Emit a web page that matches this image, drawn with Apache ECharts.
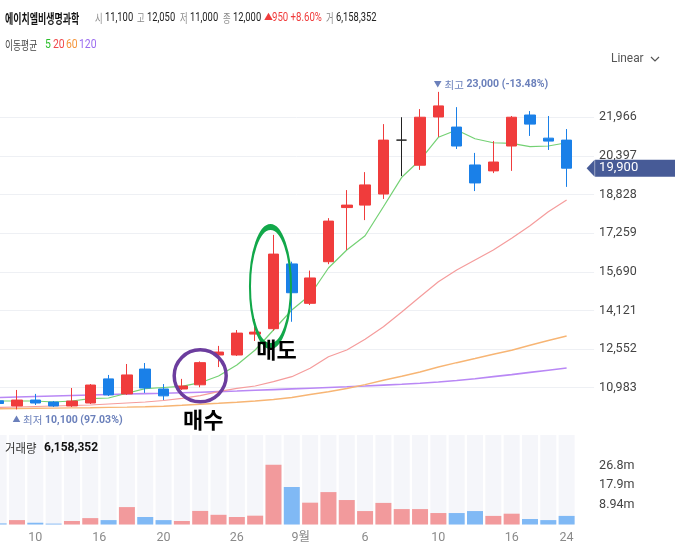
<!DOCTYPE html>
<html><head><meta charset="utf-8">
<script src="https://cdn.jsdelivr.net/npm/echarts@6/dist/echarts.min.js"></script>
<style>html,body{margin:0;padding:0;background:#fff}#c{width:675px;height:555px}</style>
</head><body><div id="c"></div>
<script>
// ---------------- data ----------------
const tickLabels = ['', '', '10', '', '', '16', '', '', '', '20', '', '', '', '26', '', '', '9월', '', '', '', '6', '', '', '', '10', '', '', '', '16', '', '', '24', ''];
const shiftedTicks = [5, 16]; // labels that sit between two sessions
const opens  = [10450,10240,10480,10400,10240,10360,11340,10730,11740,10930,10930,11100,12310,12310,13160,13380,16010,14410,16100,18300,18400,18850,21040,20020,21980,21570,20030,19790,20800,22060,21120,21040];
const closes = [10340,10480,10360,10240,10440,11090,10690,11500,10970,10650,11050,12000,12430,13200,13240,16410,14840,15440,17750,18400,19220,21040,21040,21970,22430,20800,19300,20150,21970,21690,21000,19900];
const lows   = [10300,10100,10280,10200,10200,10320,10645,10690,10770,10480,10890,11000,11820,12270,12880,13300,13660,14340,16000,16580,17790,18650,19580,19830,21170,20680,18970,19700,19790,21210,20640,19140];
const highs  = [10500,10890,10730,10440,10970,11130,11500,11945,11985,11130,11340,12050,12680,13325,13770,17190,16100,15740,17870,19010,19740,21690,21970,22300,23000,22380,20520,21000,22020,22220,22020,21490];
const volumesM = [0.5,2.0,0.8,0.4,1.6,2.9,2.0,7.9,3.4,2.0,1.6,6.158352,4.4,3.4,4.0,27.1,17.0,9.9,14.7,11.1,6.1,9.8,7.0,7.0,5.2,5.2,6.1,3.9,4.9,2.5,2.0,3.9];
const ma5   = [10442,10442,10442,10401,10442,10535,10564,10755,10942,10990,11039,11185,11458,11904,12513,13325,14138,14748,15845,16575,17157,18334,19529,20232,21154,21450,21097,20934,20910,20772,20800,20934];
const ma20  = [10178,10198,10219,10239,10259,10280,10320,10361,10401,10462,10552,10657,10820,10958,11051,11226,11429,11770,12241,12514,12948,13460,14057,14679,15288,15763,16169,16575,17050,17562,18131,18607];
const ma60  = [10129,10137,10145,10153,10162,10170,10182,10194,10210,10231,10267,10308,10348,10393,10442,10503,10584,10706,10816,10950,11108,11283,11446,11620,11823,11998,12168,12343,12505,12705,12900,13082];
const ma120 = [10584,10604,10625,10645,10665,10686,10706,10726,10743,10759,10779,10800,10824,10848,10877,10905,10934,10962,10990,11019,11051,11088,11125,11165,11214,11275,11344,11433,11514,11604,11693,11782];
const headerIndex = 11;     // session shown in the header (매수)
const buyIndex = 11, sellIndex = 15;
const priceTick = 1569;
const volTick = 8.936e6;

// ---------------- helpers ----------------
const NUM = "Roboto,'Noto Sans CJK KR',sans-serif";
const KR = "'Noto Sans CJK KR',sans-serif";
const fmt = v => String(Math.round(v)).replace(/\B(?=(\d{3})+(?!\d))/g, ',');
const UP = '#f03c3c', DOWN = '#1a80e8';
const cats = tickLabels.map((_, i) => 'c' + i);
const candleData = opens.map((o, i) => [o, closes[i], lows[i], highs[i]]);
const volumes = volumesM.map(v => v * 1e6);
const volData = volumes.map((v, i) => ({value: v, itemStyle: {color: closes[i] >= opens[i] ? '#f29a9c' : '#80b9f5'}}));
const volMax = 40.6e6;
const volBg = volumes.map(() => volMax);

const hiIdx = highs.indexOf(Math.max(...highs));
const loIdx = lows.indexOf(Math.min(...lows));
const last = closes[closes.length - 1];
const hiPct = ((last / highs[hiIdx] - 1) * 100).toFixed(2);
const loPct = ((last / lows[loIdx] - 1) * 100).toFixed(2);
const chg = closes[headerIndex] - closes[headerIndex - 1];
const chgPct = (chg / closes[headerIndex - 1] * 100).toFixed(2);

const chart = echarts.init(document.getElementById('c'), null, {renderer: 'canvas'});

function txt(x, y, text, color, size, family, weight, sx) {
  return {type: 'text', x: x, y: y, scaleX: sx || 1, z: 100,
    style: {text: text, fill: color, fontSize: size, fontFamily: family, fontWeight: weight || 'normal', verticalAlign: 'middle', align: 'left'}};
}
const h1 = 18, h2 = 45;
const graphics = [
  txt(5, h1, '에이치엘비생명과학', '#111', 13, KR, 'bold', 0.69),
  txt(95, h1, '시', '#888', 12.5, KR, 'normal', 0.66), txt(105, h1, fmt(opens[headerIndex]), '#222', 13, NUM, 'normal', 0.72),
  txt(137, h1, '고', '#888', 12.5, KR, 'normal', 0.66), txt(147, h1, fmt(highs[headerIndex]), '#222', 13, NUM, 'normal', 0.72),
  txt(180, h1, '저', '#888', 12.5, KR, 'normal', 0.66), txt(190, h1, fmt(lows[headerIndex]), '#222', 13, NUM, 'normal', 0.72),
  txt(223, h1, '종', '#888', 12.5, KR, 'normal', 0.66), txt(233, h1, fmt(closes[headerIndex]), '#222', 13, NUM, 'normal', 0.72),
  txt(264, h1, '▲', '#f03c3c', 9, NUM, 'normal', 1),
  txt(272, h1, fmt(chg) + ' +' + chgPct + '%', '#f03c3c', 13, NUM, 'normal', 0.74),
  txt(326, h1, '거', '#888', 12.5, KR, 'normal', 0.66), txt(336, h1, fmt(volumes[headerIndex]), '#222', 13, NUM, 'normal', 0.72),
  txt(5, h2, '이동평균', '#444', 12.5, KR, 'normal', 0.7),
  txt(45, h2, '5', '#2dbf2d', 13, NUM, 'normal', 0.8), txt(53, h2, '20', '#f0474a', 13, NUM, 'normal', 0.8),
  txt(66, h2, '60', '#f5953a', 13, NUM, 'normal', 0.8), txt(79, h2, '120', '#9b6cf0', 13, NUM, 'normal', 0.8),
  txt(611, 59, 'Linear', '#555', 12.5, NUM, 'normal', 0.95),
  {type: 'polyline', z: 100, shape: {points: [[651, 57], [655, 61], [659, 57]]}, style: {stroke: '#555', lineWidth: 1.2, fill: null}},
  txt(5, 448, '거래량', '#333', 12, KR, 'normal', 0.95),
  txt(44, 448, fmt(volumes[headerIndex]), '#111', 12, NUM, 'bold', 1)
];

const option = {
  animation: false,
  backgroundColor: '#fff',
  grid: [
    {left: -10.5, right: 80.9, top: 78.7, height: 347.6, outerBoundsMode: 'none', containLabel: false},
    {left: -10.5, right: 80.9, top: 435, height: 89.5, outerBoundsMode: 'none', containLabel: false}
  ],
  xAxis: [
    {type: 'category', gridIndex: 0, data: cats, boundaryGap: true, axisLine: {show: false}, axisTick: {show: false}, axisLabel: {show: false}, splitLine: {show: false}},
    {type: 'category', gridIndex: 1, data: cats, boundaryGap: true, axisLine: {show: false}, axisTick: {show: false}, splitLine: {show: false},
     axisLabel: {show: true, interval: 0, margin: 7, color: '#8a8a8a', fontSize: 12.5, fontFamily: NUM,
       formatter: (v, i) => shiftedTicks.includes(i) ? '{s|' + tickLabels[i] + '}' : tickLabels[i],
       rich: {s: {padding: [0, 0, 0, 18], color: '#8a8a8a', fontSize: 12.5, fontFamily: NUM}}}}
  ],
  yAxis: [
    {type: 'value', gridIndex: 0, position: 'right', min: priceTick * 6, max: priceTick * 15, interval: priceTick,
     axisLine: {show: false}, axisTick: {show: false},
     splitLine: {show: true, showMinLine: false, showMaxLine: false, lineStyle: {color: '#eef0f4', width: 1}},
     axisLabel: {showMinLabel: false, showMaxLabel: false, margin: 5, color: '#444', fontSize: 12.5, fontFamily: NUM, formatter: v => fmt(v)}},
    {type: 'value', gridIndex: 1, position: 'right', min: 0, max: volMax, interval: volTick,
     axisLine: {show: false}, axisTick: {show: false}, splitLine: {show: false},
     axisLabel: {margin: 5, color: '#444', fontSize: 12.5, fontFamily: NUM,
       formatter: v => (v > 0 && v < 30e6) ? (v / 1e6).toPrecision(3) + 'm' : ''}}
  ],
  series: [
    {type: 'bar', xAxisIndex: 1, yAxisIndex: 1, data: volBg, barWidth: 16, silent: true, itemStyle: {color: '#f5f6fa'}, z: 1},
    {type: 'bar', xAxisIndex: 1, yAxisIndex: 1, data: volData, barWidth: 16, barGap: '-100%', z: 2},
    {type: 'line', xAxisIndex: 0, yAxisIndex: 0, data: ma120, symbol: 'none', lineStyle: {color: '#b988f5', width: 1.6}, z: 2, silent: true},
    {type: 'line', xAxisIndex: 0, yAxisIndex: 0, data: ma60, symbol: 'none', lineStyle: {color: '#f7b574', width: 1.4}, z: 2, silent: true},
    {type: 'line', xAxisIndex: 0, yAxisIndex: 0, data: ma20, symbol: 'none', lineStyle: {color: '#f59c9c', width: 1.2}, z: 2, silent: true},
    {type: 'line', xAxisIndex: 0, yAxisIndex: 0, data: ma5, symbol: 'none', lineStyle: {color: '#74d174', width: 1.2}, z: 2, silent: true},
    {type: 'candlestick', xAxisIndex: 0, yAxisIndex: 0, data: candleData, barWidth: 11, z: 3,
     itemStyle: {color: UP, color0: DOWN, borderColor: UP, borderColor0: DOWN, borderColorDoji: '#222', borderWidth: 1},
     markLine: {silent: true, symbol: ['none', 'none'], animation: false,
       data: [{yAxis: last}], lineStyle: {color: 'rgba(0,0,0,0)', width: 1, type: 'solid'},
       label: {show: true, position: 'end', distance: 1, formatter: p => fmt(p.value), color: '#fff', fontSize: 13, fontFamily: NUM,
         backgroundColor: '#475b97', padding: [2, 37, 1, 4], lineHeight: 14}},
     markPoint: {silent: true, animation: false, data: [
       {coord: [buyIndex, 11466], symbol: 'circle', symbolSize: [52, 52], itemStyle: {color: 'rgba(0,0,0,0)', borderColor: '#6c3d9e', borderWidth: 3.5}, label: {show: false}},
       {coord: [sellIndex, 15093], symbol: 'circle', symbolSize: [41, 119], symbolOffset: [-3, 0], itemStyle: {color: 'rgba(0,0,0,0)', borderColor: '#12a84a', borderWidth: 3.5}, label: {show: false}},
       {coord: [buyIndex, 9670], symbol: 'rect', symbolSize: 1, itemStyle: {color: 'rgba(0,0,0,0)'},
        label: {show: true, position: 'inside', offset: [3, 0], formatter: '매수', color: '#000', fontSize: 22, fontWeight: 'bold', fontFamily: KR}},
       {coord: [sellIndex, 12513], symbol: 'rect', symbolSize: 1, itemStyle: {color: 'rgba(0,0,0,0)'},
        label: {show: true, position: 'inside', offset: [3, 0], formatter: '매도', color: '#000', fontSize: 22, fontWeight: 'bold', fontFamily: KR}},
       {coord: [hiIdx, highs[hiIdx]], symbol: 'rect', symbolSize: 1, itemStyle: {color: 'rgba(0,0,0,0)'},
        label: {show: true, position: 'right', distance: 0, offset: [-5, -7], color: '#6b80bb', fontSize: 10.5, fontFamily: NUM,
          formatter: '{t|▼} {a|최고} {b|' + fmt(highs[hiIdx]) + ' (' + hiPct + '%)}',
          rich: {t: {color: '#6b80bb', fontSize: 8, fontFamily: NUM}, a: {color: '#6b80bb', fontSize: 10.5, fontFamily: KR}, b: {color: '#6b80bb', fontSize: 10.5, fontWeight: 'bold', fontFamily: NUM}}}},
       {coord: [loIdx, lows[loIdx]], symbol: 'rect', symbolSize: 1, itemStyle: {color: 'rgba(0,0,0,0)'},
        label: {show: true, position: 'right', distance: 0, offset: [-5, 11], color: '#6b80bb', fontSize: 10.5, fontFamily: NUM,
          formatter: '{t|▲} {a|최저} {b|' + fmt(lows[loIdx]) + ' (' + loPct + '%)}',
          rich: {t: {color: '#6b80bb', fontSize: 8, fontFamily: NUM}, a: {color: '#6b80bb', fontSize: 10.5, fontFamily: KR}, b: {color: '#6b80bb', fontSize: 10.5, fontWeight: 'bold', fontFamily: NUM}}}},
       {coord: [closes.length - 1, last], symbol: 'triangle', symbolRotate: 90, symbolSize: [17, 8], symbolOffset: [24, 0], itemStyle: {color: '#475b97'}, label: {show: false}}
     ]}}
  ],
  graphic: graphics
};
chart.setOption(option);
</script></body></html>
